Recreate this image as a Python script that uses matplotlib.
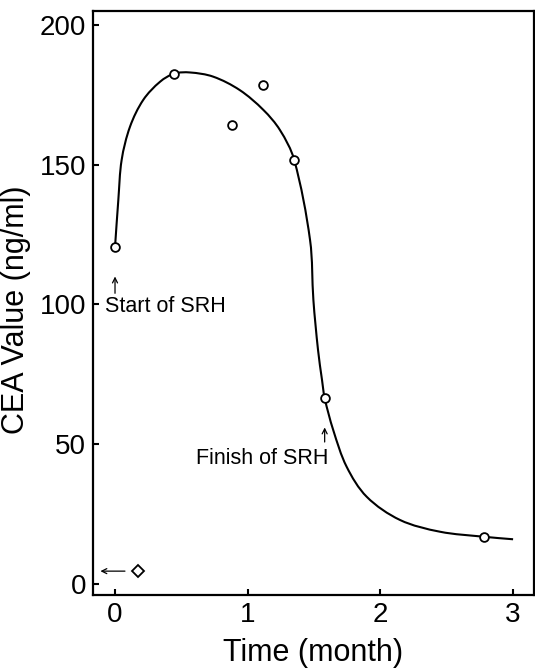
import matplotlib
matplotlib.use("Agg")
import matplotlib.pyplot as plt
import numpy as np
from matplotlib.path import Path
from matplotlib.patches import PathPatch

# measured CEA values (open circles)
obs_x = [0.0, 0.447, 0.88, 1.115, 1.35, 1.58, 2.78]
obs_y = [120.5, 182.6, 164.2, 178.5, 151.8, 66.5, 16.9]

# single diamond marker near baseline
dia_x = [0.17]
dia_y = [4.8]

# hand-drawn trend curve
curve_x = [0.0, 0.025, 0.05, 0.113, 0.213, 0.34, 0.447, 0.565, 0.74, 0.94, 1.118,
           1.243, 1.35, 1.47, 1.495, 1.53, 1.56, 1.58, 1.645, 1.745, 1.897, 2.148,
           2.449, 2.78, 3.0]
curve_y = [120.5, 137.4, 151.7, 163.6, 173.2, 179.7, 182.6, 183.0, 181.5, 176.7, 169.6,
           162.4, 151.8, 123.0, 101.6, 83.7, 73.0, 66.5, 55.0, 42.0, 31.2, 22.9,
           18.7, 16.9, 16.0]

xticks = [0, 1, 2, 3]
yticks = [0, 50, 100, 150, 200]

LBL = ["Liberation Sans", "DejaVu Sans"]

fig = plt.figure(figsize=(5.35, 6.69), dpi=100)
ax = fig.add_axes([0.1738, 0.1106, 0.8242, 0.873])
ax.set_xlim(-0.166, 3.157)
ax.set_ylim(-3.94, 205.0)

for s in ax.spines.values():
    s.set_linewidth(1.6)
    s.set_color("black")

ax.set_xticks(xticks)
ax.set_yticks(yticks)
ax.tick_params(direction="in", length=4, width=1.5, pad=5, labelsize=20)
for lab in ax.get_xticklabels() + ax.get_yticklabels():
    lab.set_family(LBL)

# smooth curve through traced points (chord-length Catmull-Rom as Bezier),
# computed in a roughly isotropic space so the tangents look right
sx, sy = 132.7, 2.795
P = np.column_stack([np.array(curve_x) * sx, np.array(curve_y) * sy])
n = len(P)
tang = np.zeros_like(P)
for i in range(n):
    a = P[max(i - 1, 0)]
    b = P[min(i + 1, n - 1)]
    d = np.linalg.norm(P[i] - a) + np.linalg.norm(b - P[i])
    tang[i] = (b - a) / d
verts = [tuple(P[0])]
codes = [Path.MOVETO]
for i in range(n - 1):
    seg = np.linalg.norm(P[i + 1] - P[i])
    c1 = P[i] + tang[i] * seg / 3.0
    c2 = P[i + 1] - tang[i + 1] * seg / 3.0
    verts += [tuple(c1), tuple(c2), tuple(P[i + 1])]
    codes += [Path.CURVE4] * 3
verts = [(vx / sx, vy / sy) for vx, vy in verts]
ax.add_patch(PathPatch(Path(verts, codes), fc="none", ec="black", lw=1.5, zorder=2))

ax.plot(obs_x, obs_y, "o", ms=6.3, mfc="white", mec="black", mew=1.3, zorder=3)
ax.plot(dia_x, dia_y, "D", ms=6, mfc="white", mec="black", mew=1.3, zorder=3)

arr = dict(arrowstyle="->", lw=0.9, color="black", mutation_scale=9, shrinkA=0, shrinkB=0)
ax.annotate("", xy=(0.0, 110), xytext=(0.0, 104), arrowprops=arr)
ax.text(-0.075, 99.1, "Start of SRH", fontsize=15.5, family=LBL, va="center", ha="left")
ax.annotate("", xy=(1.58, 56), xytext=(1.58, 50.8), arrowprops=arr)
ax.text(1.58 + 0.03, 44.9, "Finish of SRH", fontsize=15.5, family=LBL, va="center", ha="right")
ax.annotate("", xy=(-0.11, 4.6), xytext=(0.075, 4.6), arrowprops=arr)

ax.set_xlabel("Time (month)", fontsize=22, family=LBL, labelpad=7)
ax.set_ylabel("CEA Value (ng/ml)", fontsize=22, family=LBL)
ax.yaxis.set_label_coords(-0.14, 0.488)

fig.savefig("out.png", dpi=100, facecolor="white")
